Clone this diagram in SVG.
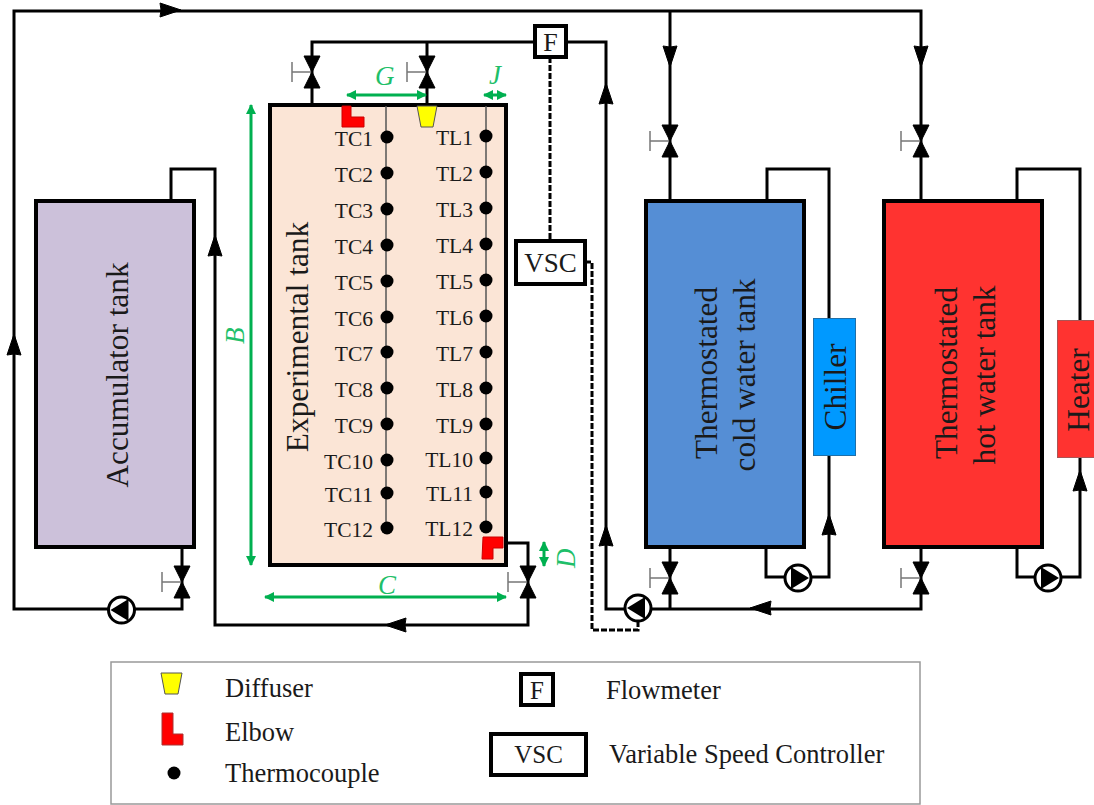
<svg xmlns="http://www.w3.org/2000/svg" width="1094" height="805" viewBox="0 0 1094 805">
<style>
text{font-family:"Liberation Serif","Times New Roman",serif;fill:#1a1a1a}
.pipe{fill:none;stroke:#000;stroke-width:3}
.dash{fill:none;stroke:#000;stroke-width:3;stroke-dasharray:6 2}
.tank{stroke:#000;stroke-width:4}
.g{fill:none;stroke:#00b050;stroke-width:3}
text.gt{fill:#1fbf6a;font-style:italic;font-size:27px}
.t{font-size:21.500px;text-anchor:end}
.big{font-size:31.300px;text-anchor:middle}
.leg{font-size:26.500px}
.box{fill:#fff;stroke:#000;stroke-width:4}
.stem{stroke:#555;stroke-width:1.500;fill:none}
.hand{stroke:#777;stroke-width:1.500;fill:none}
</style>
<defs>
<g id="valve"><path d="M-20 0H0M-20 -10V10" class="hand"/><path d="M-8 -16H8L0 0ZM-8 16H8L0 0Z" fill="#000" stroke="#000"/></g>
<g id="pumpL"><circle r="13" fill="#fff" stroke="#000" stroke-width="3"/><path d="M-11 0L7 -11V11Z" fill="#000"/></g>
<g id="pumpR"><circle r="13" fill="#fff" stroke="#000" stroke-width="3"/><path d="M11 0L-7 -11V11Z" fill="#000"/></g>
<path id="arr" d="M0 -10L7 11Q0 9 -7 11Z" fill="#000" stroke="#000"/>
<marker id="ga" markerUnits="userSpaceOnUse" markerWidth="12" markerHeight="12" refX="9" refY="6" orient="auto-start-reverse"><path d="M0 1L10 6L0 11Z" fill="#00b050"/></marker>
<circle id="tc" r="6.500" fill="#000"/>
</defs>
<g id="connectors">
<path class="pipe" d="M921 200V11H14V609H182V547"/>
<path class="pipe" d="M670 11V200"/>
<path class="pipe" d="M171 200V169H215V625H528V543H506"/>
<path class="pipe" d="M312 104V42H535M427 42V104M566 42H606V609H921V547M670 609V547"/>
<path class="pipe" d="M767 200V169H829V318M829 456V577H766V547"/>
<path class="pipe" d="M1017 200V169H1080V320M1080 458V577H1017V547"/>
<path class="dash" d="M550 57V241M585 262H592V630H638V620"/>
<use href="#arr" transform="translate(171 10) rotate(90)"/>
<use href="#arr" transform="translate(14 344)"/>
<use href="#arr" transform="translate(670 57) rotate(180)"/>
<use href="#arr" transform="translate(921 57) rotate(180)"/>
<use href="#arr" transform="translate(606 93)"/>
<use href="#arr" transform="translate(215 245)"/>
<use href="#arr" transform="translate(395 625) rotate(-90)"/>
<use href="#arr" transform="translate(606 535)"/>
<use href="#arr" transform="translate(760 608) rotate(-90)"/>
<use href="#arr" transform="translate(829 524)"/>
<use href="#arr" transform="translate(1080 480)"/>
</g>
<g id="accumulator-tank"><rect class="tank" x="36" y="201" width="158" height="346" fill="#ccc1da"/><text class="big" transform="translate(128 375) rotate(-90)">Accumulator tank</text></g>
<g id="experimental-tank">
<rect class="tank" x="270" y="105" width="236" height="460" fill="#fbe5d6"/>
<path class="stem" d="M386 106V528M486 106V525"/>
<text class="big" transform="translate(308 337) rotate(-90)">Experimental tank</text>
</g>
<g id="thermocouples-tc">
<use href="#tc" x="387" y="137"/><use href="#tc" x="387" y="173"/><use href="#tc" x="387" y="209"/><use href="#tc" x="387" y="245"/><use href="#tc" x="387" y="281"/><use href="#tc" x="387" y="317"/><use href="#tc" x="387" y="352"/><use href="#tc" x="387" y="388"/><use href="#tc" x="387" y="424"/><use href="#tc" x="387" y="460"/><use href="#tc" x="387" y="493"/><use href="#tc" x="387" y="528"/>
<text class="t" x="373" y="146">TC1</text><text class="t" x="373" y="182">TC2</text><text class="t" x="373" y="218">TC3</text><text class="t" x="373" y="254">TC4</text><text class="t" x="373" y="290">TC5</text><text class="t" x="373" y="326">TC6</text><text class="t" x="373" y="361">TC7</text><text class="t" x="373" y="397">TC8</text><text class="t" x="373" y="433">TC9</text><text class="t" x="373" y="469">TC10</text><text class="t" x="373" y="502">TC11</text><text class="t" x="373" y="537">TC12</text>
</g>
<g id="thermocouples-tl">
<use href="#tc" x="486" y="136"/><use href="#tc" x="486" y="172"/><use href="#tc" x="486" y="208"/><use href="#tc" x="486" y="244"/><use href="#tc" x="486" y="280"/><use href="#tc" x="486" y="316"/><use href="#tc" x="486" y="352"/><use href="#tc" x="486" y="388"/><use href="#tc" x="486" y="424"/><use href="#tc" x="486" y="458"/><use href="#tc" x="486" y="492"/><use href="#tc" x="486" y="527"/>
<text class="t" x="473" y="145">TL1</text><text class="t" x="473" y="181">TL2</text><text class="t" x="473" y="217">TL3</text><text class="t" x="473" y="253">TL4</text><text class="t" x="473" y="289">TL5</text><text class="t" x="473" y="325">TL6</text><text class="t" x="473" y="361">TL7</text><text class="t" x="473" y="397">TL8</text><text class="t" x="473" y="433">TL9</text><text class="t" x="473" y="467">TL10</text><text class="t" x="473" y="501">TL11</text><text class="t" x="473" y="536">TL12</text>
</g>
<g id="elbow-top"><path d="M342 106H351V117H364V127H342Z" fill="#f00" stroke="#c00" stroke-width="1"/></g>
<g id="diffuser"><path d="M417 106H437L433 127H421Z" fill="#ff0" stroke="#555" stroke-width="1"/></g>
<g id="elbow-bottom"><path d="M483 537H503V548H493V559H482Z" fill="#f00" stroke="#c00" stroke-width="1"/></g>
<g id="cold-tank"><rect class="tank" x="646" y="201" width="158" height="346" fill="#558ed5"/><text class="big" transform="rotate(-90 717 373)" x="717" y="373">Thermostated</text><text class="big" transform="rotate(-90 755 375)" x="755" y="375">cold water tank</text></g>
<g id="hot-tank"><rect class="tank" x="884" y="201" width="158" height="346" fill="#ff3330"/><text class="big" transform="rotate(-90 957 373)" x="957" y="373">Thermostated</text><text class="big" transform="rotate(-90 995 375)" x="995" y="375">hot water tank</text></g>
<g id="chiller"><rect x="813.500" y="318.500" width="42" height="137" fill="#0099ff" stroke="#1f6fa8"/><text class="big" transform="rotate(-90 846 387)" x="846" y="387">Chiller</text></g>
<g id="heater"><rect x="1057.500" y="320.500" width="37" height="137" fill="#ff3330" stroke="#a55"/><text class="big" transform="rotate(-90 1089 390)" x="1089" y="390">Heater</text></g>
<g id="flowmeter"><rect class="box" x="535" y="26" width="31" height="31"/><text x="550.500" y="51" style="font-size:26px" text-anchor="middle">F</text></g>
<g id="vsc"><rect class="box" x="516" y="241" width="69" height="43"/><text x="550.500" y="272" style="font-size:27px" text-anchor="middle">VSC</text></g>
<g id="valves">
<use href="#valve" transform="translate(312 72)"/><use href="#valve" transform="translate(427 72)"/>
<use href="#valve" transform="translate(670 141)"/><use href="#valve" transform="translate(921 141)"/>
<use href="#valve" transform="translate(182 582)"/><use href="#valve" transform="translate(528 582)"/>
<use href="#valve" transform="translate(670 578)"/><use href="#valve" transform="translate(921 578)"/>
</g>
<g id="pumps">
<use href="#pumpL" transform="translate(121.500 610)"/><use href="#pumpL" transform="translate(638 608)"/>
<use href="#pumpR" transform="translate(798 578)"/><use href="#pumpR" transform="translate(1048 578)"/>
</g>
<g id="dimensions">
<path class="g" marker-start="url(#ga)" marker-end="url(#ga)" d="M347 95H426"/>
<path class="g" marker-start="url(#ga)" marker-end="url(#ga)" d="M484 95H506"/>
<path class="g" marker-start="url(#ga)" marker-end="url(#ga)" d="M251 105V565"/>
<path class="g" marker-start="url(#ga)" marker-end="url(#ga)" d="M265 597H506"/>
<path class="g" marker-start="url(#ga)" marker-end="url(#ga)" d="M544 542V566"/>
<text class="gt" x="375" y="85">G</text>
<text class="gt" x="489" y="84">J</text>
<text class="gt" x="378" y="594">C</text>
<text class="gt" transform="translate(244 344) rotate(-90)">B</text>
<text class="gt" transform="translate(575 568) rotate(-90)">D</text>
</g>
<g id="legend">
<rect x="111" y="662" width="809" height="142" fill="none" stroke="#999" stroke-width="1.500"/>
<path d="M161 673H182L178 694H165Z" fill="#ff0" stroke="#555"/>
<path d="M162 713H173V734H183V745H162Z" fill="#f00" stroke="#a33"/>
<circle cx="174" cy="773" r="6.500" fill="#000"/>
<rect class="box" x="521" y="674" width="32" height="31"/><text x="537" y="699" style="font-size:25px" text-anchor="middle">F</text>
<rect class="box" x="491" y="734" width="95" height="41"/><text x="538.500" y="763" style="font-size:25px" text-anchor="middle">VSC</text>
<text class="leg" x="225" y="697">Diffuser</text>
<text class="leg" x="225" y="741">Elbow</text>
<text class="leg" x="225" y="782">Thermocouple</text>
<text class="leg" x="606" y="699">Flowmeter</text>
<text class="leg" x="609" y="763">Variable Speed Controller</text>
</g>
</svg>
